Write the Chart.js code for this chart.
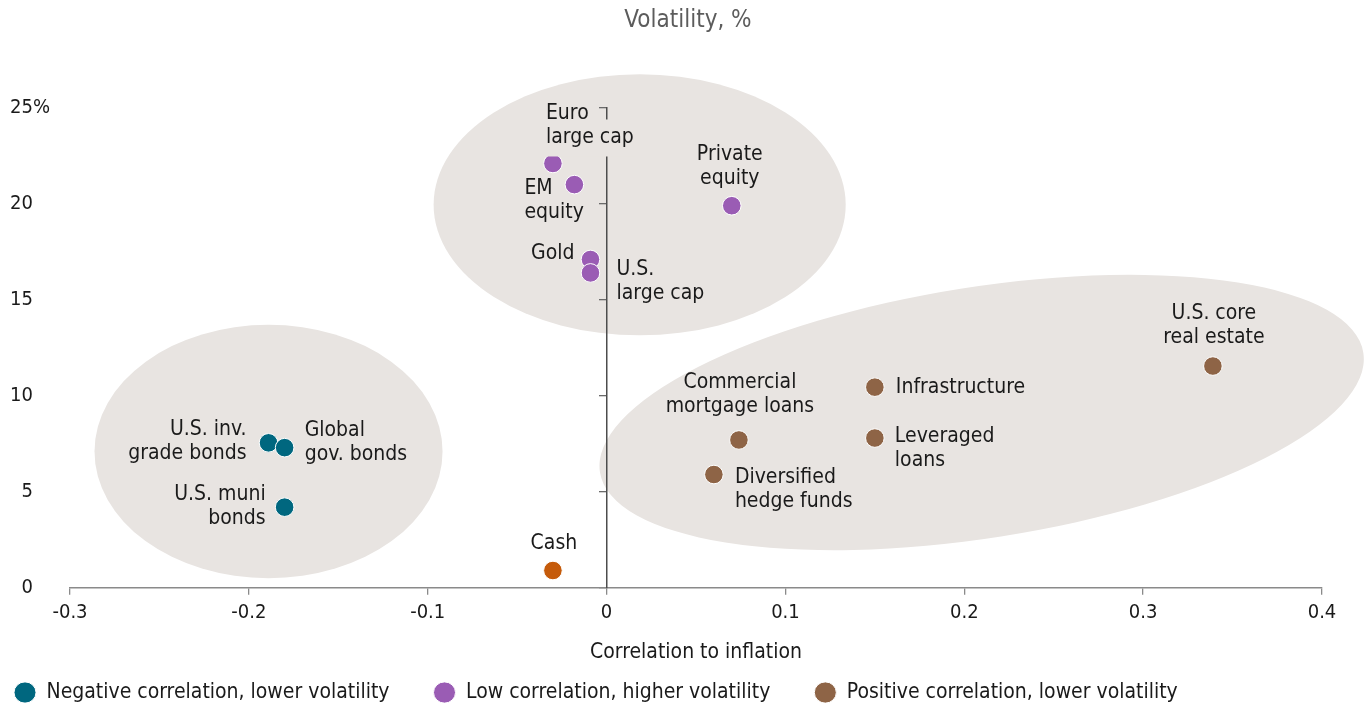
<!DOCTYPE html>
<html><head><meta charset="utf-8">
<script src="https://cdn.jsdelivr.net/npm/chart.js@4.4.1/dist/chart.umd.min.js"></script>
<style>html,body{margin:0;padding:0;background:#fff;}canvas{display:block;}</style>
</head><body>
<canvas id="c" width="1370" height="706"></canvas>
<script>
const FONT = '"DejaVu Sans Condensed", "Liberation Sans", Arial, sans-serif';

// ---- data ----
const seriesNames = ['Negative correlation, lower volatility', 'Low correlation, higher volatility', 'Positive correlation, lower volatility'];
const negLabels = ['U.S. inv.\ngrade bonds', 'Global\ngov. bonds', 'U.S. muni\nbonds'];
const negX = [-0.189, -0.18, -0.18];
const negY = [7.55, 7.3, 4.2];
const lowLabels = ['Euro\nlarge cap', 'EM\nequity', 'Private\nequity', 'Gold', 'U.S.\nlarge cap'];
const lowX = [-0.03, -0.018, 0.07, -0.009, -0.009];
const lowY = [22.1, 21.0, 19.9, 17.1, 16.4];
const posLabels = ['Commercial\nmortgage loans', 'Diversified\nhedge funds', 'Infrastructure', 'Leveraged\nloans', 'U.S. core\nreal estate'];
const posX = [0.074, 0.06, 0.15, 0.15, 0.339];
const posY = [7.7, 5.9, 10.45, 7.8, 11.55];
const cashLabels = ['Cash'];
const cashX = [-0.03];
const cashY = [0.9];
const xTickValues = [-0.3, -0.2, -0.1, 0, 0.1, 0.2, 0.3, 0.4];
const xTickLabels = ['-0.3', '-0.2', '-0.1', '0', '0.1', '0.2', '0.3', '0.4'];
const yTickValues = [0, 5, 10, 15, 20, 25];
const yTickLabels = ['0', '5', '10', '15', '20', '25%'];

// ---- decorative cluster shapes (data units) ----
const clusterShapes = [
  {cx: -0.189, cy: 7.1, rx: 0.0973, ry: 6.6, rot: 0},
  {cx: 0.0185, cy: 19.95, rx: 0.1152, ry: 6.8, rot: 0},
  {cx: 0.2097, cy: 9.13, rx: 0.216, ry: 6.54, rot: -8.9}
];

// ---- label placement (pixel offsets from point) ----
const labelLayout = {
  'U.S. inv.\ngrade bonds': {dx: -22, dy: -13, align: 'right'},
  'Global\ngov. bonds': {dx: 20, dy: -17, align: 'left'},
  'U.S. muni\nbonds': {dx: -19, dy: -13, align: 'right'},
  'Euro\nlarge cap': {dx: -7, dy: -50, align: 'left', bg: true},
  'EM\nequity': {dx: -50, dy: 4, align: 'left'},
  'Private\nequity': {dx: -2, dy: -51, align: 'center'},
  'Gold': {dx: -16, dy: -6, align: 'right'},
  'U.S.\nlarge cap': {dx: 26, dy: -3, align: 'left'},
  'Commercial\nmortgage loans': {dx: 1, dy: -57, align: 'center'},
  'Diversified\nhedge funds': {dx: 21, dy: 3, align: 'left'},
  'Infrastructure': {dx: 21, dy: 0, align: 'left'},
  'Leveraged\nloans': {dx: 20, dy: -1, align: 'left'},
  'U.S. core\nreal estate': {dx: 1, dy: -52, align: 'center'},
  'Cash': {dx: 1, dy: -27, align: 'center'}
};

const TEXT = '#1a1a1a';
const SHAPE_FILL = '#e8e4e1';
const COLORS = ['#00677f', '#9a5cb4', '#8e6446', '#c55b0b'];

function pts(xs, ys, names) { return xs.map((v, i) => ({x: v, y: ys[i], name: names[i]})); }

const clustersPlugin = {
  id: 'clusters',
  beforeDraw(chart) {
    const {ctx} = chart; const x = chart.scales.x, y = chart.scales.y;
    const pxX = Math.abs(x.getPixelForValue(1) - x.getPixelForValue(0));
    const pxY = Math.abs(y.getPixelForValue(0) - y.getPixelForValue(1));
    ctx.save();
    ctx.fillStyle = SHAPE_FILL;
    clusterShapes.forEach(s => {
      ctx.beginPath();
      ctx.ellipse(x.getPixelForValue(s.cx), y.getPixelForValue(s.cy), s.rx * pxX, s.ry * pxY, s.rot * Math.PI / 180, 0, Math.PI * 2);
      ctx.fill();
    });
    ctx.restore();
  }
};

const labelsPlugin = {
  id: 'pointLabels',
  afterDatasetsDraw(chart) {
    const ctx = chart.ctx;
    ctx.save();
    ctx.font = '21px ' + FONT;
    ctx.textBaseline = 'middle';
    chart.data.datasets.forEach((ds, di) => {
      const meta = chart.getDatasetMeta(di);
      meta.data.forEach((el, i) => {
        const name = ds.data[i].name;
        const lay = labelLayout[name];
        if (!lay) return;
        const lines = name.split('\n');
        const x0 = el.x + lay.dx;
        ctx.textAlign = lay.align;
        lines.forEach((ln, k) => {
          const yy = el.y + lay.dy + k * 24;
          if (lay.bg) {
            const w = ctx.measureText(ln).width;
            let left = lay.align === 'left' ? x0 : lay.align === 'right' ? x0 - w : x0 - w / 2;
            ctx.fillStyle = SHAPE_FILL;
            ctx.fillRect(left - 2, yy - 18, w + 4, 37);
          }
          ctx.fillStyle = TEXT;
          ctx.fillText(ln, x0, yy);
        });
      });
    });
    ctx.restore();
  }
};

const blockShift = {
  id: 'blockShift',
  afterLayout(chart) {
    const lg = chart.legend;
    if (lg) {
      const p = lg.options.labels.padding;
      lg.left = 14 - p;
      lg.top = chart.height - 24 - p;
    }
    const tb = chart.titleBlock;
    if (tb) {
      const w = tb.right - tb.left;
      tb.left = 688 - w / 2;
      tb.right = 688 + w / 2;
    }
  }
};

new Chart(document.getElementById('c'), {
  type: 'scatter',
  data: {
    datasets: [
      {label: seriesNames[0], data: pts(negX, negY, negLabels), backgroundColor: COLORS[0], yAxisID: 'y'},
      {label: seriesNames[1], data: pts(lowX, lowY, lowLabels), backgroundColor: COLORS[1], yAxisID: 'y'},
      {label: seriesNames[2], data: pts(posX, posY, posLabels), backgroundColor: COLORS[2], yAxisID: 'y'},
      {label: 'Cash', data: pts(cashX, cashY, cashLabels), backgroundColor: COLORS[3], yAxisID: 'y'}
    ]
  },
  options: {
    responsive: false,
    animation: false,
    events: [],
    layout: {padding: {left: 10, right: 48, top: 0, bottom: -34}},
    elements: {point: {radius: 9.3, hoverRadius: 9.3, borderWidth: 1, borderColor: '#ffffff', pointStyle: 'circle'}},
    plugins: {
      title: {display: true, text: 'Volatility, %', color: '#5c5c5c', font: {family: FONT, size: 24, weight: 'normal'}, padding: {top: 6, bottom: 73}},
      legend: {
        position: 'bottom', align: 'start',
        labels: {
          filter: item => item.datasetIndex < 3,
          usePointStyle: true, pointStyle: 'circle', boxHeight: 15, pointStyleWidth: 22,
          padding: 44, color: TEXT, font: {family: FONT, size: 21}
        }
      },
      tooltip: {enabled: false}
    },
    scales: {
      x: {
        type: 'linear', position: 'bottom', min: -0.3, max: 0.4,
        afterBuildTicks: s => { s.ticks = xTickValues.map(v => ({value: v})); },
        ticks: {callback: (v, i) => xTickLabels[i], color: TEXT, font: {family: FONT, size: 20}, padding: 6, maxRotation: 0, autoSkip: false},
        grid: {drawOnChartArea: false, drawTicks: true, tickLength: 7, color: '#8a8a8a', lineWidth: 1.3},
        border: {display: true, color: '#8a8a8a', width: 1.5},
        title: {display: true, text: 'Correlation to inflation', color: TEXT, font: {family: FONT, size: 21}, padding: {top: 9, bottom: 0}}
      },
      y: {
        type: 'linear', position: 'left', min: 0, max: 25,
        afterBuildTicks: s => { s.ticks = yTickValues.map(v => ({value: v})); },
        ticks: {crossAlign: 'far', callback: (v, i) => (yTickLabels[i].length === 1 ? '\u2007' : '') + yTickLabels[i], color: TEXT, font: {family: FONT, size: 20}, autoSkip: false},
        grid: {display: false, drawTicks: false},
        border: {display: false},
        afterFit: s => { s.width = 60; }
      },
      y2: {
        type: 'linear', axis: 'y', position: {x: 0}, min: 0, max: 25,
        afterBuildTicks: s => { s.ticks = yTickValues.map(v => ({value: v})); },
        ticks: {display: false},
        grid: {drawOnChartArea: false, drawTicks: true, tickLength: 7, color: '#6a6a6a', lineWidth: 1.3},
        border: {display: true, color: '#4d4d4d', width: 1.5}
      }
    }
  },
  plugins: [clustersPlugin, labelsPlugin, blockShift]
});
</script>
</body></html>
